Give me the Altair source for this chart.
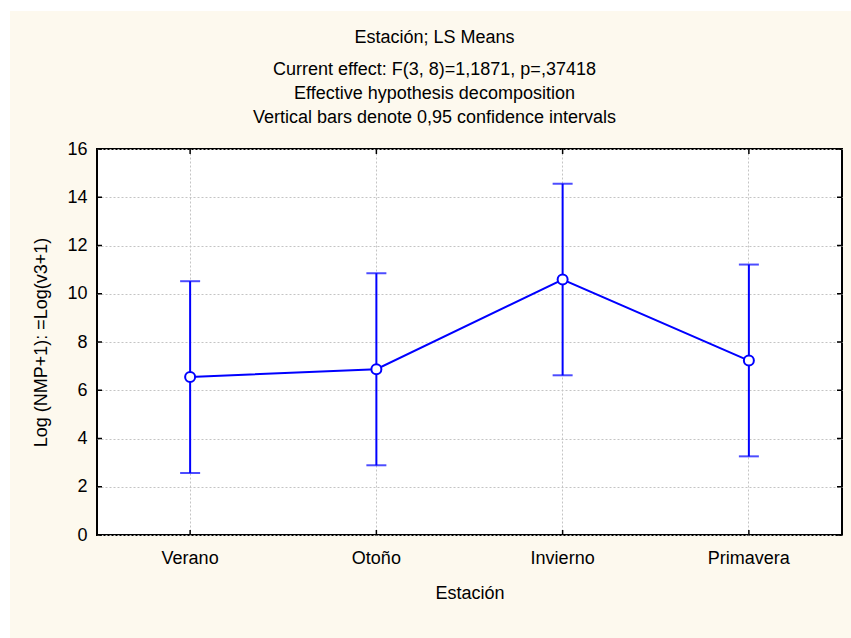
import altair as alt
import pandas as pd

# LS means per season with 95% confidence limits
estaciones = ["Verano", "Otoño", "Invierno", "Primavera"]
medias = [6.55, 6.87, 10.59, 7.23]
inferior = [2.57, 2.89, 6.62, 3.26]
superior = [10.52, 10.85, 14.56, 11.21]
y_ticks = [0, 2, 4, 6, 8, 10, 12, 14, 16]

W, H = 745, 386
FONT = "Liberation Sans"
FS = 18
BLUE = "#0000FF"
CREAM = "#FDF9EE"

df = pd.DataFrame({"Estación": estaciones, "media": medias,
                   "inf": inferior, "sup": superior})
ticks_df = pd.DataFrame({"v": y_ticks})
one = pd.DataFrame({"k": [0]})

x_scale = alt.Scale(type="band", paddingInner=0, paddingOuter=0)
y_scale = alt.Scale(domain=[0, 16], nice=False)


def xcat(**kw):
    return alt.X("Estación:N", sort=estaciones, scale=x_scale, **kw)


x_enc = xcat(title="Estación",
             axis=alt.Axis(labelAngle=0, ticks=False, domain=False,
                           labelPadding=14, titlePadding=17,
                           grid=True, gridDash=[2, 2], gridColor="#C4C4C4",
                           gridWidth=1))

base = alt.Chart(df)

# white page margin around the cream panel
margin_left = alt.Chart(one).mark_rect(color="white", clip=False).encode(
    x=alt.value(-97), x2=alt.value(-87), y=alt.value(-149), y2=alt.value(489))
margin_top = alt.Chart(one).mark_rect(color="white", clip=False).encode(
    x=alt.value(-97), x2=alt.value(754), y=alt.value(-149), y2=alt.value(-138))

err = base.mark_rule(color=BLUE, strokeWidth=2).encode(
    x=x_enc,
    y=alt.Y("inf:Q", scale=y_scale, title="Log (NMP+1): =Log(v3+1)",
            axis=alt.Axis(values=y_ticks, ticks=False, domain=False,
                          labelPadding=10, titlePadding=16,
                          grid=True, gridDash=[2, 2], gridColor="#C4C4C4",
                          gridWidth=1)),
    y2="sup:Q")
cap_lo = base.mark_tick(color=BLUE, size=20, thickness=2, orient="horizontal").encode(
    x=xcat(), y=alt.Y("inf:Q", scale=y_scale))
cap_hi = base.mark_tick(color=BLUE, size=20, thickness=2, orient="horizontal").encode(
    x=xcat(), y=alt.Y("sup:Q", scale=y_scale))
line = base.mark_line(color=BLUE, strokeWidth=2).encode(
    x=xcat(), y=alt.Y("media:Q", scale=y_scale))
pts = base.mark_point(shape="circle", filled=True, fill="white", stroke=BLUE,
                      strokeWidth=2, size=100, opacity=1).encode(
    x=xcat(), y=alt.Y("media:Q", scale=y_scale))

# inward tick marks on all four sides of the frame
tick_len = 5
yl = alt.Chart(ticks_df).mark_rule(color="black", strokeWidth=1.5).encode(
    x=alt.value(0), x2=alt.value(tick_len), y=alt.Y("v:Q", scale=y_scale))
yr = alt.Chart(ticks_df).mark_rule(color="black", strokeWidth=1.5).encode(
    x=alt.value(W - tick_len), x2=alt.value(W), y=alt.Y("v:Q", scale=y_scale))
xb = base.mark_rule(color="black", strokeWidth=1.5).encode(
    x=xcat(), y=alt.value(H - tick_len), y2=alt.value(H))
xt = base.mark_rule(color="black", strokeWidth=1.5).encode(
    x=xcat(), y=alt.value(0), y2=alt.value(tick_len))

chart = alt.layer(
    margin_left, margin_top, err, cap_lo, cap_hi, line, pts, yl, yr, xb, xt
).properties(
    width=W, height=H,
    autosize=alt.AutoSizeParams(type="none"),
    padding={"left": 97, "top": 149, "right": 9, "bottom": 103},
    background=CREAM,
    title=alt.TitleParams(
        text="Estación; LS Means",
        subtitle=["Current effect: F(3, 8)=1,1871, p=,37418",
                  "Effective hypothesis decomposition",
                  "Vertical bars denote 0,95 confidence intervals"],
        anchor="middle", dx=-35, offset=-127,
        font=FONT, fontSize=FS, fontWeight="normal", color="black",
        subtitleFont=FONT, subtitleFontSize=FS, subtitleColor="black",
        subtitleLineHeight=24, subtitlePadding=14),
).configure_view(
    fill="white", stroke="black", strokeWidth=2
).configure_axis(
    labelFont=FONT, titleFont=FONT, labelFontSize=FS, titleFontSize=FS,
    labelColor="black", titleColor="black", titleFontWeight="normal"
)

chart.save("out.html", embed_options={"renderer": "svg", "actions": False})
